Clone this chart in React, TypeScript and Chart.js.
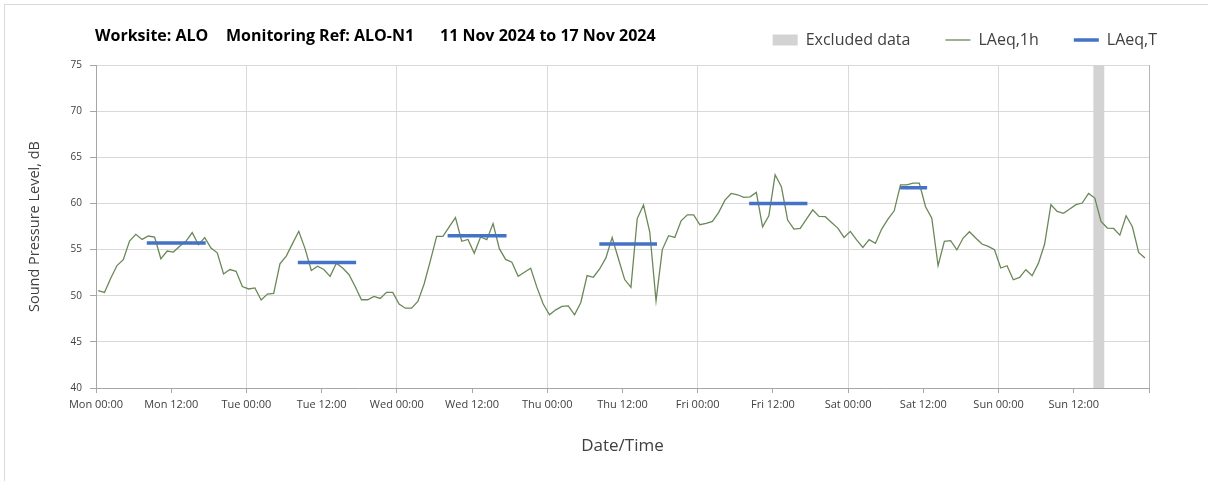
import React, { useEffect, useRef } from "react";
import { Chart, registerables } from "chart.js";

Chart.register(...registerables);

// Day names for the x-axis tick labels (12-hour ticks)
const dayNames = ["Mon", "Tue", "Wed", "Thu", "Fri", "Sat", "Sun"];

// Offset (hours) of the first hourly sample after Mon 00:00
const firstSampleHour = 0.35;

// LAeq,1h values, dB (hourly, Mon 00:00 .. Sun 23:00)
const laeq1h = [
  50.55, 50.36, 51.9, 53.27, 53.9, 55.93, 56.65, 56.1, 56.47, 56.36, 54.0, 54.84,
  54.73, 55.35, 55.9, 56.84, 55.53, 56.3, 55.16, 54.65, 52.36, 52.84, 52.65, 51.0,
  50.73, 50.84, 49.53, 50.18, 50.25, 53.45, 54.3, 55.64, 56.98, 55.1, 52.73, 53.2,
  52.84, 52.1, 53.53, 53.0, 52.3, 51.0, 49.56, 49.56, 49.93, 49.7, 50.36, 50.36,
  49.1, 48.65, 48.65, 49.38, 51.27, 53.8, 56.44, 56.44, 57.45, 58.47, 55.9, 56.1,
  54.6, 56.36, 56.07, 57.82, 55.1, 53.93, 53.64, 52.1, 52.55, 52.98, 50.9, 49.1,
  47.93, 48.47, 48.84, 48.9, 47.93, 49.27, 52.18, 52.0, 52.9, 54.1, 56.3, 54.0,
  51.75, 50.9, 58.36, 59.82, 56.9, 49.45, 55.0, 56.5, 56.32, 58.12, 58.77, 58.77,
  57.69, 57.83, 58.05, 59.03, 60.36, 61.08, 60.94, 60.65, 60.72, 61.19, 57.47, 58.66,
  63.1, 61.8, 58.2, 57.22, 57.29, 58.3, 59.31, 58.6, 58.56, 57.94, 57.33, 56.32,
  56.97, 56.05, 55.23, 56.07, 55.67, 57.22, 58.3, 59.2, 62.02, 62.02, 62.2, 62.2,
  59.64, 58.41, 53.25, 55.88, 55.96, 54.98, 56.25, 56.93, 56.25, 55.6, 55.34, 54.98,
  53.0, 53.25, 51.73, 51.99, 52.82, 52.17, 53.5, 55.6, 59.86, 59.13, 58.92, 59.39,
  59.86, 60.04, 61.08, 60.58, 58.05, 57.33, 57.29, 56.57, 58.66, 57.47, 54.69, 54.08,
];

// LAeq,T assessment periods (hours from Mon 00:00) and levels, dB
const periodStart = [8.1, 32.2, 56.1, 80.3, 104.2, 128.3];
const periodEnd = [17.5, 41.5, 65.5, 89.5, 113.5, 132.6];
const laeqT = [55.7, 53.6, 56.5, 55.6, 60.0, 61.7];

// Excluded data window (hours from Mon 00:00)
const excludedStart = 159.1;
const excludedEnd = 160.9;

const yMin = 40;
const yMax = 75;
const xMax = 168;

const FONT = "'Open Sans', sans-serif";
const GREEN = "#6a8857";
const BLUE = "#4472c4";
const GREY_BAND = "#d3d3d3";

export default function App() {
  const ref = useRef<HTMLCanvasElement>(null);

  useEffect(() => {
    if (!ref.current) return;
    const hourly = laeq1h.map((v, i) => ({ x: i + firstSampleHour, y: v }));
    const tData: { x: number; y: number | null }[] = [];
    periodStart.forEach((s, k) => {
      tData.push({ x: s, y: laeqT[k] });
      tData.push({ x: periodEnd[k], y: laeqT[k] });
      tData.push({ x: periodEnd[k] + 0.01, y: null });
    });
    const exData = [
      { x: excludedStart, y: yMax },
      { x: excludedEnd, y: yMax },
    ];

    const titlePlugin = {
      id: "headerText",
      afterDraw(chart: any) {
        const ctx = chart.ctx;
        ctx.save();
        ctx.font = `bold 16px ${FONT}`;
        ctx.fillStyle = "#000000";
        ctx.textBaseline = "middle";
        ctx.textAlign = "left";
        ctx.fillText("Worksite: ALO", 95, 36);
        ctx.fillText("Monitoring Ref: ALO-N1", 226, 36);
        ctx.fillText("11 Nov 2024 to 17 Nov 2024", 440, 36);
        ctx.restore();
      },
    };

    const chart = new Chart(ref.current, {
      type: "line",
      data: {
        datasets: [
          {
            label: "LAeq,T",
            data: tData as any,
            borderColor: BLUE,
            backgroundColor: BLUE,
            borderWidth: 3.5,
            pointRadius: 0,
            spanGaps: false,
            order: 1,
            borderCapStyle: "butt",
          },
          {
            label: "LAeq,1h",
            data: hourly,
            borderColor: GREEN,
            backgroundColor: GREEN,
            borderWidth: 1.3,
            pointRadius: 0,
            tension: 0,
            order: 2,
          },
          {
            label: "Excluded data",
            data: exData,
            borderColor: "rgba(0,0,0,0)",
            borderWidth: 0,
            backgroundColor: GREY_BAND,
            fill: "start",
            pointRadius: 0,
            order: 3,
          },
        ],
      },
      options: {
        animation: false,
        responsive: true,
        maintainAspectRatio: false,
        layout: { padding: { left: 20, right: 16, top: -3, bottom: 0 } },
        plugins: {
          tooltip: { enabled: false },
          legend: {
            position: "top",
            align: "end",
            labels: {
              usePointStyle: true,
              pointStyleWidth: 25,
              boxHeight: 11,
              padding: 35,
              color: "#404040",
              font: { family: FONT, size: 16 },
              generateLabels: () => [
                {
                  text: "Excluded data",
                  fillStyle: GREY_BAND,
                  strokeStyle: GREY_BAND,
                  lineWidth: 0,
                  pointStyle: "rect",
                  hidden: false,
                  datasetIndex: 2,
                  fontColor: "#404040",
                },
                {
                  text: "LAeq,1h",
                  fillStyle: GREEN,
                  strokeStyle: GREEN,
                  lineWidth: 1.3,
                  pointStyle: "line",
                  hidden: false,
                  datasetIndex: 1,
                  fontColor: "#404040",
                },
                {
                  text: "LAeq,T",
                  fillStyle: BLUE,
                  strokeStyle: BLUE,
                  lineWidth: 3.5,
                  pointStyle: "line",
                  hidden: false,
                  datasetIndex: 0,
                  fontColor: "#404040",
                },
              ],
            },
          },
        },
        scales: {
          x: {
            type: "linear",
            min: 0,
            max: xMax,
            ticks: {
              stepSize: 12,
              maxTicksLimit: 30,
              autoSkip: false,
              maxRotation: 0,
              padding: 5,
              color: "#404040",
              font: { family: FONT, size: 11 },
              callback: (v: any) => {
                const n = Number(v);
                if (n >= xMax) return "";
                const d = dayNames[Math.floor(n / 24)];
                return `${d} ${n % 24 === 0 ? "00" : "12"}:00`;
              },
            },
            grid: {
              color: (ctx: any) => {
                const v = ctx.tick ? ctx.tick.value : -1;
                if (v === xMax) return "#b5b5b5";
                return v % 24 === 0 ? "#d9d9d9" : "rgba(0,0,0,0)";
              },
              tickColor: "#a6a6a6",
              tickLength: 5,
            },
            border: { color: "#a6a6a6", width: 1 },
            title: {
              display: true,
              text: "Date/Time",
              color: "#404040",
              font: { family: FONT, size: 17 },
              padding: { top: 0, bottom: 25 },
            },
            afterFit: (s: any) => {
              s.height = 93;
            },
          },
          xTop: {
            type: "linear",
            position: "top",
            display: true,
            min: 0,
            max: xMax,
            ticks: { display: false },
            grid: { display: false },
            border: { display: false },
            afterFit: (s: any) => {
              s.height = 7;
            },
          },
          y: {
            min: yMin,
            max: yMax,
            ticks: {
              stepSize: 5,
              padding: 8,
              color: "#404040",
              font: { family: FONT, size: 10 },
            },
            grid: { color: "#d9d9d9", tickColor: "#a6a6a6", tickLength: 6 },
            border: { color: "#a6a6a6", width: 1 },
            title: {
              display: true,
              text: "Sound Pressure Level, dB",
              color: "#404040",
              font: { family: FONT, size: 14.5 },
              padding: { top: 6, bottom: 0 },
            },
            afterFit: (s: any) => {
              s.width = 76;
            },
          },
          yRight: {
            position: "right",
            display: true,
            min: 0,
            max: 1,
            ticks: { display: false },
            grid: { display: false },
            border: { display: false },
            afterFit: (s: any) => {
              s.width = 43;
            },
          },
        },
      },
      plugins: [titlePlugin],
    });

    return () => chart.destroy();
  }, []);

  return (
    <div
      style={{
        position: "fixed",
        left: 0,
        top: 0,
        width: 1208,
        height: 481,
        background: "#ffffff",
        overflow: "hidden",
      }}
    >
      <div
        style={{
          position: "absolute",
          left: 4,
          top: 4,
          right: -10,
          bottom: -10,
          borderLeft: "1px solid #d9d9d9",
          borderTop: "1px solid #d9d9d9",
          pointerEvents: "none",
        }}
      />
      <canvas ref={ref} />
    </div>
  );
}
